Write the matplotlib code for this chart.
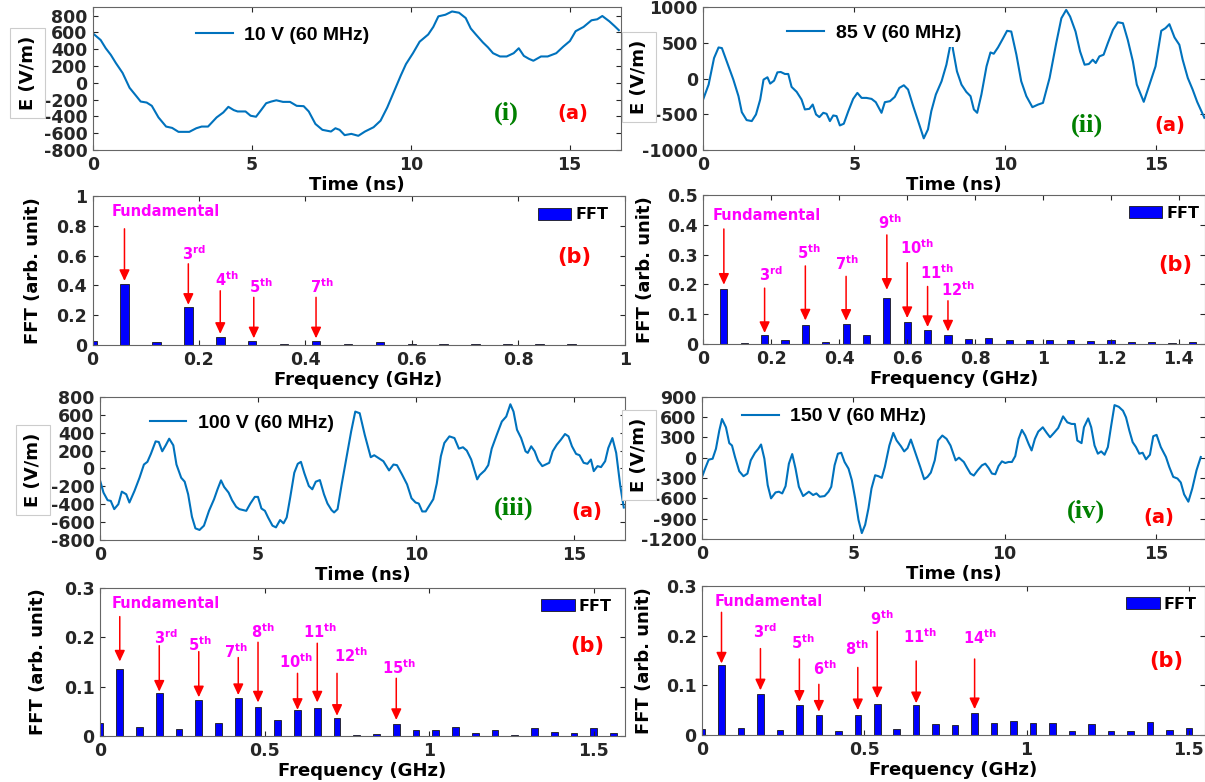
import matplotlib
matplotlib.use("Agg")
import matplotlib.pyplot as plt
from matplotlib.ticker import FuncFormatter

plt.rcParams['font.family'] = 'DejaVu Sans'
plt.rcParams['font.weight'] = 'bold'
plt.rcParams['axes.labelweight'] = 'bold'

# ---------------- time signals (ns, V/m) ----------------
t10 = [0, 0.24, 0.4, 0.56, 0.72, 0.93, 1.15, 1.36, 1.5, 1.69, 1.85, 2.06, 2.3, 2.49, 2.69,
       3.03, 3.25, 3.42, 3.62, 3.89, 4.1, 4.26, 4.43, 4.55, 4.8, 4.96, 5.13, 5.29, 5.45, 5.61,
       5.77, 5.98, 6.2, 6.41, 6.63, 6.79, 7.0, 7.22, 7.49, 7.63, 7.76, 7.92, 8.13, 8.35, 8.56,
       8.83, 9.05, 9.26, 9.48, 9.69, 9.85, 10.07, 10.28, 10.55, 10.71, 10.87, 11.09, 11.3, 11.52,
       11.73, 11.89, 12.05, 12.27, 12.43, 12.59, 12.81, 13.02, 13.24, 13.4, 13.56, 13.72, 13.86,
       14.1, 14.31, 14.58, 14.8, 15.01, 15.19, 15.44, 15.69, 15.87, 16.03, 16.25, 16.41, 16.55]
e10 = [588, 510, 412, 333, 235, 118, -59, -157, -223, -235, -274, -412, -521, -537, -584,
       -584, -541, -521, -521, -412, -353, -286, -325, -341, -341, -392, -404, -325, -243, -223,
       -208, -227, -227, -274, -278, -341, -490, -560, -580, -541, -560, -623, -608, -631, -580,
       -529, -451, -294, -98, 90, 223, 353, 490, 576, 666, 792, 811, 850, 835,
       772, 647, 576, 482, 423, 353, 314, 314, 353, 412, 321, 286, 263,
       314, 314, 353, 431, 498, 615, 666, 745, 757, 796, 733, 678, 627]

t85 = [0, 0.17, 0.35, 0.5, 0.61, 0.77, 0.99, 1.16, 1.27, 1.43, 1.6, 1.74, 1.88, 1.99, 2.12,
       2.21, 2.34, 2.45, 2.56, 2.7, 2.81, 2.92, 3.09, 3.25, 3.36, 3.51, 3.62, 3.73, 3.84, 3.97,
       4.08, 4.19, 4.3, 4.41, 4.52, 4.65, 4.8, 4.96, 5.1, 5.24, 5.4, 5.57, 5.71, 5.9, 6.01,
       6.18, 6.34, 6.49, 6.64, 6.78, 6.95, 7.15, 7.3, 7.44, 7.55, 7.7, 7.89, 8.05, 8.16, 8.22,
       8.27, 8.4, 8.55, 8.71, 8.85, 8.96, 9.07, 9.21, 9.38, 9.51, 9.62, 9.76, 9.93, 10.06, 10.2,
       10.37, 10.53, 10.7, 10.9, 11.09, 11.25, 11.47, 11.69, 11.86, 12.02, 12.15, 12.33, 12.48,
       12.63, 12.77, 12.9, 13.0, 13.12, 13.26, 13.4, 13.57, 13.73, 13.9, 14.06, 14.23, 14.36,
       14.59, 14.78, 14.98, 15.17, 15.31, 15.44, 15.61, 15.77, 15.88, 16.05, 16.21, 16.36, 16.6]
e85 = [-279, -84, 288, 437, 428, 242, -14, -246, -470, -581, -595, -502, -293, -14, 19,
       -70, -28, 88, 93, 65, 65, -116, -186, -293, -432, -423, -363, -502, -539, -479,
       -493, -595, -516, -525, -656, -632, -456, -284, -200, -270, -270, -284, -330, -479, -330,
       -316, -256, -130, -93, -153, -386, -642, -837, -711, -456, -223, -37, 195, 428, 560,
       404, 102, -84, -186, -246, -432, -479, -223, 172, 367, 349, 437, 567, 670, 660,
       335, -37, -246, -400, -363, -340, 9, 498, 846, 963, 870, 660, 381,
       195, 205, 265, 219, 312, 335, 498, 684, 790, 777, 544, 242, -84,
       -325, -84, 172, 670, 707, 763, 577, 474, 265, 9, -153, -325, -549]

t100 = [0, 0.11, 0.24, 0.34, 0.45, 0.58, 0.69, 0.83, 0.93, 1.09, 1.25, 1.39, 1.5, 1.61, 1.76,
        1.86, 1.97, 2.08, 2.19, 2.32, 2.42, 2.57, 2.68, 2.79, 2.91, 3.02, 3.15, 3.29, 3.45, 3.61,
        3.72, 3.83, 3.93, 4.07, 4.18, 4.31, 4.41, 4.63, 4.76, 4.9, 5.0, 5.11, 5.22, 5.32, 5.46,
        5.57, 5.7, 5.81, 5.91, 6.02, 6.15, 6.26, 6.36, 6.47, 6.61, 6.72, 6.83, 6.96, 7.09, 7.2,
        7.33, 7.41, 7.52, 7.65, 7.79, 7.95, 8.08, 8.22, 8.38, 8.57, 8.68, 8.81, 8.97, 9.15, 9.29,
        9.4, 9.56, 9.72, 9.86, 9.99, 10.09, 10.2, 10.31, 10.42, 10.55, 10.66, 10.79, 10.9, 11.06,
        11.22, 11.36, 11.49, 11.61, 11.75, 11.94, 12.02, 12.18, 12.29, 12.4, 12.56, 12.72, 12.86,
        12.99, 13.09, 13.2, 13.33, 13.47, 13.54, 13.65, 13.76, 13.87, 14.0, 14.22, 14.33, 14.46,
        14.59, 14.72, 14.83, 14.94, 15.07, 15.18, 15.31, 15.43, 15.54, 15.63, 15.75, 15.86, 15.99,
        16.09, 16.22, 16.34, 16.47, 16.58]
e100 = [-133, -270, -355, -363, -455, -400, -259, -289, -381, -252, -104, 44, 74, 163, 303,
        296, 192, 259, 333, 259, 44, -104, -148, -289, -540, -670, -688, -640, -474, -344,
        -233, -133, -207, -270, -355, -429, -455, -474, -392, -318, -318, -448, -474, -548, -640,
        -659, -577, -614, -548, -326, -48, 52, 74, -55, -196, -233, -148, -130, -289, -392,
        -466, -492, -455, -178, 100, 414, 636, 618, 377, 126, 148, 118, 81, -22, 44,
        37, -67, -178, -333, -381, -392, -481, -481, -418, -344, -170, 137, 285, 359,
        340, 222, 237, 200, 100, -122, -74, -22, 37, 222, 377, 525, 581,
        718, 636, 433, 340, 192, 174, 248, 192, 89, 26, 63, 192, 266,
        322, 385, 359, 248, 163, 148, 63, 52, 100, -30, 26, 15, 81,
        229, 340, 174, -196, -437]

t150 = [0, 0.11, 0.22, 0.35, 0.46, 0.57, 0.66, 0.79, 0.9, 0.99, 1.09, 1.23, 1.37, 1.5, 1.61,
        1.75, 1.86, 1.95, 2.06, 2.17, 2.28, 2.43, 2.54, 2.65, 2.76, 2.87, 2.98, 3.09, 3.2, 3.34,
        3.53, 3.67, 3.78, 3.89, 4.05, 4.18, 4.27, 4.38, 4.49, 4.6, 4.71, 4.84, 4.95, 5.06, 5.17,
        5.28, 5.39, 5.5, 5.6, 5.72, 5.83, 5.94, 6.04, 6.19, 6.32, 6.43, 6.57, 6.68, 6.79, 6.9,
        7.06, 7.21, 7.34, 7.45, 7.56, 7.69, 7.8, 7.94, 8.08, 8.21, 8.38, 8.49, 8.65, 8.76, 8.87,
        8.98, 9.11, 9.25, 9.36, 9.47, 9.58, 9.69, 9.8, 9.91, 10.02, 10.13, 10.24, 10.35, 10.46,
        10.57, 10.68, 10.79, 10.89, 11.0, 11.11, 11.26, 11.39, 11.5, 11.63, 11.77, 11.93, 12.07,
        12.21, 12.32, 12.4, 12.54, 12.62, 12.76, 12.86, 12.97, 13.08, 13.19, 13.3, 13.41, 13.52,
        13.63, 13.77, 13.91, 14.01, 14.12, 14.23, 14.34, 14.45, 14.56, 14.67, 14.8, 14.91, 15.02,
        15.16, 15.33, 15.44, 15.57, 15.71, 15.82, 15.93, 16.07, 16.2, 16.34, 16.48]
e150 = [-283, -151, -29, -15, 132, 400, 571, 449, 215, 180, 10, -200, -273, -234, -39,
        73, 132, 195, -15, -405, -600, -512, -502, -527, -420, -88, 54, -161, -429, -566,
        -502, -551, -527, -576, -566, -502, -429, -112, 59, 73, -63, -161, -332, -600, -917,
        -1112, -990, -746, -454, -259, -273, -298, -137, 180, 366, 254, 171, 93, 141, 268,
        59, -137, -317, -283, -220, -39, 254, 327, 278, 180, -39, 0, -63, -151, -234,
        -263, -185, -112, -88, -151, -234, -244, -122, -54, -78, -63, -63, 24, 278,
        410, 327, 205, 107, 278, 385, 449, 366, 302, 366, 439, 610, 522,
        498, 498, 254, 215, 449, 580, 449, 180, 59, 93, 44, 156, 473,
        776, 751, 693, 595, 400, 229, 156, 59, 73, -24, 44, 317, 337,
        156, 10, -137, -283, -307, -366, -541, -649, -454, -185, 10]

# ---------------- FFT spectra (GHz, arb. unit) ----------------
f10 = [0, 0.06, 0.12, 0.18, 0.24, 0.30, 0.36, 0.42, 0.48, 0.54, 0.60, 0.66, 0.72, 0.78, 0.84, 0.90, 0.96]
a10 = [0.025, 0.41, 0.018, 0.252, 0.056, 0.027, 0.009, 0.027, 0.007, 0.02, 0.006, 0.004, 0.004,
       0.006, 0.008, 0.006, 0.002]

f85 = [0, 0.06, 0.12, 0.18, 0.24, 0.30, 0.36, 0.42, 0.48, 0.54, 0.60, 0.66, 0.72, 0.78, 0.84,
       0.90, 0.96, 1.02, 1.08, 1.14, 1.20, 1.26, 1.32, 1.38, 1.44]
a85 = [0.0, 0.185, 0.0045, 0.029, 0.0145, 0.0625, 0.008, 0.066, 0.029, 0.156, 0.075, 0.046, 0.029,
       0.0156, 0.019, 0.0134, 0.0134, 0.0123, 0.0134, 0.011, 0.0145, 0.0056, 0.008, 0.0033, 0.008]

f100 = [0, 0.06, 0.12, 0.18, 0.24, 0.30, 0.36, 0.42, 0.48, 0.54, 0.60, 0.66, 0.72, 0.78, 0.84,
        0.90, 0.96, 1.02, 1.08, 1.14, 1.20, 1.26, 1.32, 1.38, 1.44, 1.50, 1.56]
a100 = [0.027, 0.135, 0.019, 0.088, 0.014, 0.072, 0.026, 0.078, 0.059, 0.0325, 0.052, 0.057, 0.037,
        0.002, 0.0047, 0.025, 0.012, 0.012, 0.018, 0.006, 0.012, 0.0014, 0.0156, 0.008, 0.006,
        0.016, 0.006]

f150 = [0, 0.06, 0.12, 0.18, 0.24, 0.30, 0.36, 0.42, 0.48, 0.54, 0.60, 0.66, 0.72, 0.78, 0.84,
        0.90, 0.96, 1.02, 1.08, 1.14, 1.20, 1.26, 1.32, 1.38, 1.44, 1.50, 1.56]
a150 = [0.0114, 0.14, 0.0134, 0.0825, 0.01, 0.06, 0.04, 0.0087, 0.041, 0.063, 0.0114, 0.06, 0.0215,
        0.02, 0.045, 0.0235, 0.0275, 0.024, 0.024, 0.0087, 0.0215, 0.0087, 0.0087, 0.0255, 0.01,
        0.0134, 0.0188]

LINE = '#0072BD'
fmt = FuncFormatter(lambda v, pos: '%g' % v)

fig = plt.figure(figsize=(12.05, 7.82), dpi=100)


def style(ax):
    ax.tick_params(direction='in', length=3.5, width=0.8, top=True, right=True,
                   labelsize=12.5, colors='0.15', pad=4)
    for s in ax.spines.values():
        s.set_color('0.4')
        s.set_linewidth(0.8)
    ax.xaxis.set_major_formatter(fmt)
    ax.yaxis.set_major_formatter(fmt)


def time_panel(rect, t, e, label, ylim, yticks, roman, roman_xy, a_xy, leg_xy, ylab_xy):
    ax = fig.add_axes(rect)
    ax.plot(t, e, color=LINE, lw=1.5, label=label)
    ax.set_xlim(0, 16.62)
    ax.set_ylim(*ylim)
    ax.set_xticks([0, 5, 10, 15])
    ax.set_yticks(yticks)
    style(ax)
    ax.set_xlabel('Time (ns)', fontsize=13, labelpad=2)
    ax.set_ylabel('E (V/m)', fontsize=13,
                  bbox=dict(boxstyle='square,pad=0.45', fc='white', ec='0.8', lw=0.8))
    ax.yaxis.set_label_coords(*ylab_xy)
    ax.legend(loc='center left', bbox_to_anchor=leg_xy,
              prop=dict(family='Liberation Sans', weight='bold', size=14),
              frameon=True, facecolor='white', edgecolor='none', framealpha=1,
              borderaxespad=0, borderpad=0.25, handlelength=1.9, handletextpad=0.6)
    ax.text(*roman_xy, roman, color='#008000', fontsize=19, fontweight='bold',
            family='Liberation Serif', ha='center', va='center')
    ax.text(*a_xy, '(a)', color='red', fontsize=14, fontweight='bold',
            ha='center', va='center')
    return ax


def fft_panel(rect, f, a, width, xlim, xticks, ylim, yticks, notes, b_xy, leg_xy, ylab_x):
    ax = fig.add_axes(rect)
    bars = ax.bar(f, a, width=width, color='#0000FF', edgecolor='0.1', linewidth=0.6)
    ax.set_xlim(*xlim)
    ax.set_ylim(*ylim)
    ax.set_xticks(xticks)
    ax.set_yticks(yticks)
    style(ax)
    ax.set_xlabel('Frequency (GHz)', fontsize=13, labelpad=2)
    ax.set_ylabel('FFT (arb. unit)', fontsize=13)
    ax.yaxis.set_label_coords(ylab_x, 0.5)
    ax.legend([bars], ['FFT'], loc='center left', bbox_to_anchor=leg_xy, frameon=False,
              prop=dict(weight='bold', size=11.5), borderaxespad=0, borderpad=0,
              handlelength=2.1, handleheight=0.75, handletextpad=0.25)
    for txt, tx, ty, ax_x, y0, y1 in notes:
        ax.annotate('', xy=(ax_x, y1), xytext=(ax_x, y0),
                    arrowprops=dict(arrowstyle='-|>,head_length=0.6,head_width=0.28',
                                    color='red', lw=1.1, shrinkA=0, shrinkB=0,
                                    mutation_scale=11))
        ax.text(tx, ty, txt, color='magenta', fontsize=10.5, fontweight='bold',
                ha='center', va='center')
    ax.text(*b_xy, '(b)', color='red', fontsize=15, fontweight='bold',
            ha='center', va='center')
    return ax


def sup(n, s):
    return n + r'$^{\mathbf{' + s + '}}$'


# ---- row 1 ----
time_panel([0.0772, 0.8082, 0.4382, 0.1825], t10, e10, '10 V (60 MHz)', (-800, 900),
           range(-800, 801, 200), '(i)', (13.0, -362), (15.1, -362), (0.185, 0.806), (-0.107, 0.54))
time_panel([0.5838, 0.8082, 0.4162, 0.1825], t85, e85, '85 V (60 MHz)', (-1000, 1000),
           range(-1000, 1001, 500), '(ii)', (12.7, -650), (15.45, -660), (0.157, 0.818), (-0.111, 0.51))

fft_panel([0.0768, 0.5588, 0.4416, 0.1905], f10, a10, 0.016, (0, 1),
          [0, 0.2, 0.4, 0.6, 0.8, 1], (0, 1), [0, 0.2, 0.4, 0.6, 0.8, 1],
          [('Fundamental', 0.138, 0.895, 0.06, 0.78, 0.43),
           (sup('3', 'rd'), 0.19, 0.616, 0.18, 0.545, 0.27),
           (sup('4', 'th'), 0.253, 0.4375, 0.24, 0.364, 0.075),
           (sup('5', 'th'), 0.317, 0.39, 0.303, 0.32, 0.045),
           (sup('7', 'th'), 0.431, 0.39, 0.42, 0.32, 0.045)],
          (0.905, 0.59), (0.837, 0.874), -0.095)

fft_panel([0.5838, 0.5601, 0.4162, 0.1905], f85, a85, 0.021, (0, 1.477),
          [0, 0.2, 0.4, 0.6, 0.8, 1, 1.2, 1.4], (0, 0.5), [0, 0.1, 0.2, 0.3, 0.4, 0.5],
          [('Fundamental', 0.186, 0.43, 0.06, 0.386, 0.199),
           (sup('3', 'rd'), 0.2, 0.232, 0.18, 0.1875, 0.037),
           (sup('5', 'th'), 0.309, 0.305, 0.30, 0.262, 0.079),
           (sup('7', 'th'), 0.423, 0.271, 0.42, 0.227, 0.078),
           (sup('9', 'th'), 0.55, 0.408, 0.54, 0.366, 0.182),
           (sup('10', 'th'), 0.628, 0.325, 0.60, 0.273, 0.087),
           (sup('11', 'th'), 0.689, 0.241, 0.66, 0.193, 0.057),
           (sup('12', 'th'), 0.75, 0.184, 0.72, 0.145, 0.042)],
          (1.39, 0.266), (0.848, 0.879), -0.099)

# ---- row 2 ----
time_panel([0.083, 0.3095, 0.4357, 0.1829], t100, e100, '100 V (60 MHz)', (-800, 800),
           range(-800, 801, 200), '(iii)', (13.1, -445), (15.4, -484), (0.085, 0.816), (-0.11, 0.49))
time_panel([0.5826, 0.3107, 0.4174, 0.182], t150, e150, '150 V (60 MHz)', (-1200, 900),
           range(-1200, 901, 300), '(iv)', (12.7, -790), (15.1, -879), (0.069, 0.86), (-0.108, 0.59))

fft_panel([0.083, 0.0588, 0.4357, 0.1893], f100, a100, 0.021, (0, 1.595),
          [0, 0.5, 1, 1.5], (0, 0.3), [0, 0.1, 0.2, 0.3],
          [('Fundamental', 0.2, 0.268, 0.06, 0.242, 0.151),
           (sup('3', 'rd'), 0.2, 0.2, 0.18, 0.183, 0.09),
           (sup('5', 'th'), 0.302, 0.185, 0.30, 0.171, 0.0785),
           (sup('7', 'th'), 0.413, 0.171, 0.42, 0.159, 0.083),
           (sup('8', 'th'), 0.495, 0.212, 0.48, 0.19, 0.068),
           (sup('10', 'th'), 0.596, 0.151, 0.60, 0.127, 0.053),
           (sup('11', 'th'), 0.669, 0.212, 0.66, 0.188, 0.068),
           (sup('12', 'th'), 0.762, 0.162, 0.72, 0.127, 0.041),
           (sup('15', 'th'), 0.909, 0.139, 0.90, 0.117, 0.0325)],
          (1.48, 0.183), (0.84, 0.878), -0.1015)

fft_panel([0.5826, 0.0601, 0.4174, 0.1905], f150, a150, 0.02, (0, 1.55),
          [0, 0.5, 1, 1.5], (0, 0.3), [0, 0.1, 0.2, 0.3],
          [('Fundamental', 0.205, 0.268, 0.06, 0.247, 0.144),
           (sup('3', 'rd'), 0.195, 0.208, 0.18, 0.174, 0.09),
           (sup('5', 'th'), 0.312, 0.186, 0.30, 0.153, 0.067),
           (sup('6', 'th'), 0.38, 0.134, 0.36, 0.102, 0.047),
           (sup('8', 'th'), 0.478, 0.174, 0.48, 0.136, 0.05),
           (sup('9', 'th'), 0.553, 0.235, 0.54, 0.209, 0.074),
           (sup('11', 'th'), 0.672, 0.198, 0.66, 0.149, 0.064),
           (sup('14', 'th'), 0.858, 0.197, 0.84, 0.153, 0.052)],
          (1.43, 0.149), (0.843, 0.879), -0.097)

fig.savefig('out.png', dpi=100)
